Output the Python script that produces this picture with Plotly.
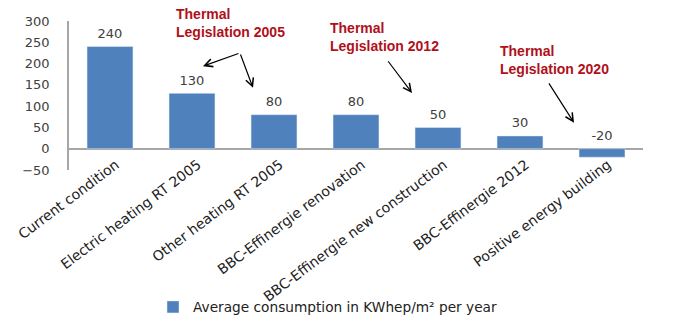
import plotly.graph_objects as go

categories = ["Current condition", "Electric heating RT 2005", "Other heating RT 2005",
              "BBC-Effinergie renovation", "BBC-Effinergie new construction",
              "BBC-Effinergie 2012", "Positive energy building"]
values = [240, 130, 80, 80, 50, 30, -20]
series_name = "Average consumption in KWhep/m² per year"
y_ticks = [-50, 0, 50, 100, 150, 200, 250, 300]

BLUE = "#4F81BD"
RED = "#B0101A"
FONT = "DejaVu Sans"

fig = go.Figure()
fig.add_trace(go.Bar(x=categories, y=values, name=series_name, marker_color=BLUE,
                     width=0.56, showlegend=True))
fig.add_trace(go.Scatter(x=categories, y=[max(v, 0) for v in values],
                         text=[str(v) for v in values], mode="markers+text",
                         marker=dict(size=7, opacity=0),
                         textposition="top center",
                         textfont=dict(family=FONT, size=13, color="#404040"),
                         showlegend=False, hoverinfo="skip", cliponaxis=False))

# arrow annotations (data coords: category index, value)
arrows = [
    (1.585, 225, 1.134, 194),
    (1.585, 225, 1.744, 143),
    (3.378, 209, 3.683, 131),
    (5.341, 157, 5.659, 61),
]
for tx, ty, hx, hy in arrows:
    fig.add_annotation(x=hx, y=hy, ax=tx, ay=ty, xref="x", yref="y", axref="x", ayref="y",
                       showarrow=True, arrowhead=5, arrowsize=1.3, arrowwidth=1.2,
                       arrowcolor="black", text="")

labels = [
    ("Thermal<br>Legislation 2005", 174, 4),
    ("Thermal<br>Legislation 2012", 328, 18),
    ("Thermal<br>Legislation 2020", 498, 41),
]
for txt, px, py in labels:
    fig.add_annotation(x=(px - 69) / 574, y=(170 - py) / 149, xref="paper", yref="paper",
                       xanchor="left", yanchor="top", align="left", showarrow=False,
                       text="<b>" + txt + "</b>",
                       font=dict(family="Liberation Sans", size=14, color=RED))

fig.update_layout(
    width=677, height=326,
    margin=dict(l=69, r=34, t=21, b=156),
    paper_bgcolor="white", plot_bgcolor="white",
    font=dict(family=FONT, size=13, color="#222222"),
    bargap=0.44,
    legend=dict(orientation="h", xref="container", yref="container",
                x=153 / 677, y=1 - 307 / 326,
                xanchor="left", yanchor="middle", bgcolor="rgba(0,0,0,0)",
                font=dict(family=FONT, size=13.7, color="#222222"),
                itemwidth=30),
    xaxis=dict(tickangle=-37, showgrid=False, showline=False, ticks="",
               tickfont=dict(family=FONT, size=14, color="#222222"),
               ticklabelshift=6, ticklabelstandoff=-17, automargin=False,
               zeroline=False),
    yaxis=dict(range=[-50, 300], tickvals=y_ticks, showgrid=False, zeroline=True,
               zerolinecolor="#A6A6A6", zerolinewidth=1.5,
               showline=True, linecolor="#A6A6A6", linewidth=1.5, ticks="",
               ticklabelstandoff=15, automargin=False,
               tickfont=dict(family=FONT, size=13, color="#404040")),
)

fig.write_html("out.html")
